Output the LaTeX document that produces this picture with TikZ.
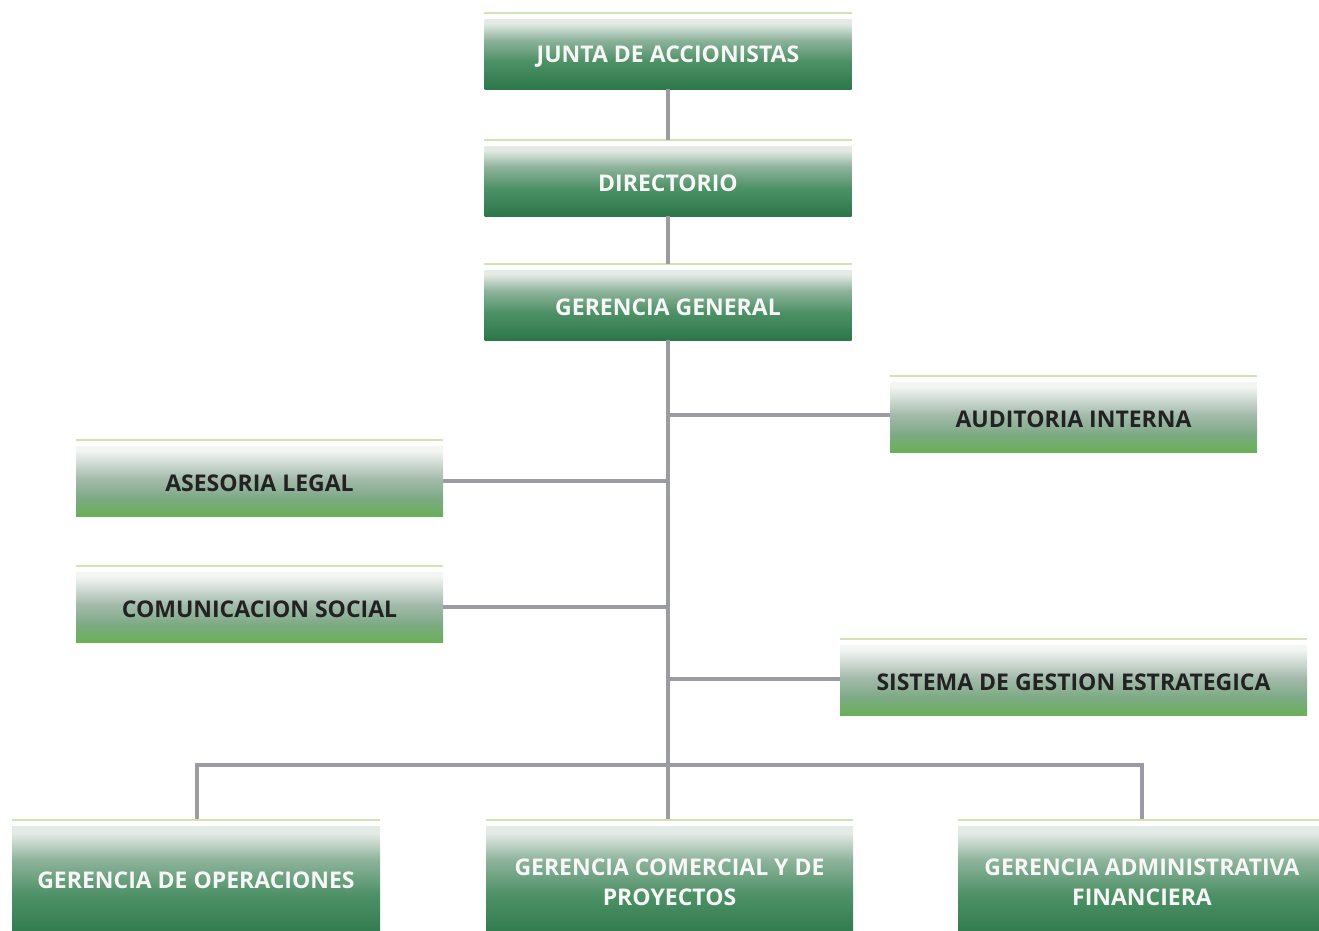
\documentclass[tikz,border=0pt]{standalone}
\usepackage{fontspec}
\setmainfont{Open Sans}
\definecolor{dkT}{HTML}{E4EAE6}
\definecolor{dkM1}{HTML}{8DB39B}
\definecolor{dkM2}{HTML}{4E9167}
\definecolor{dkB}{HTML}{2B774A}
\definecolor{ltT}{HTML}{F4F6F4}
\definecolor{ltM1}{HTML}{A5BBAD}
\definecolor{ltM2}{HTML}{7EAA86}
\definecolor{ltB}{HTML}{69B056}
\definecolor{linegray}{HTML}{9A9BA3}
\definecolor{topgreen}{HTML}{CFE4B0}
\definecolor{darktext}{HTML}{222222}
\pgfdeclareverticalshading{darkbox}{100bp}{color(0bp)=(dkB); color(25bp)=(dkB); color(45bp)=(dkM2); color(60bp)=(dkM1); color(72bp)=(dkT); color(100bp)=(dkT)}
\pgfdeclareverticalshading{lightbox}{100bp}{color(0bp)=(ltB); color(25bp)=(ltB); color(38bp)=(ltM2); color(52bp)=(ltM1); color(72bp)=(ltT); color(100bp)=(ltT)}
\begin{document}
\begin{tikzpicture}[x=1pt,y=-1pt,
  textbase/.style={rectangle, inner sep=0pt, align=center,
    font=\fontsize{23}{30}\selectfont\bfseries},
  box/.style={textbase, minimum height=70pt, text height=21pt},
  dbox/.style={box, shading=darkbox, text=white!94!gray},
  lbox/.style={box, shading=lightbox, text=darktext},
  conn/.style={draw=linegray, line width=4pt},
  topline/.style={draw=topgreen, line width=2.2pt}]
\useasboundingbox (0,0) rectangle (1319,930);
\node[dbox, minimum width=367pt] (junta) at (668,54) {JUNTA DE ACCIONISTAS};
\node[dbox, minimum width=367pt] (dir) at (668,181) {DIRECTORIO};
\node[dbox, minimum width=367pt] (gg) at (668,305) {GERENCIA GENERAL};
\node[lbox, minimum width=367pt] (aud) at (1073.5,417) {AUDITORIA INTERNA};
\node[lbox, minimum width=367pt] (ase) at (259.5,481) {ASESORIA LEGAL};
\node[lbox, minimum width=367pt] (com) at (259.5,607) {COMUNICACION SOCIAL};
\node[lbox, minimum width=467pt] (sis) at (1073.5,680) {SISTEMA DE GESTION ESTRATEGICA};
\node[dbox, minimum width=368pt, minimum height=114pt] (ops) at (196,883) {};
\node[dbox, minimum width=367pt, minimum height=114pt] (comr) at (669.5,883) {};
\node[dbox, minimum width=372pt, minimum height=114pt] (adm) at (1144,883) {};
\node[textbase, text=white!94!gray] (opsT) at (196,880) {GERENCIA DE OPERACIONES};
\node[textbase, text=white!94!gray] (comrT) at (669.5,882) {GERENCIA COMERCIAL Y DE\\PROYECTOS};
\node[textbase, text=white!94!gray] (admT) at (1142,882) {GERENCIA ADMINISTRATIVA\\FINANCIERA};
\foreach \n in {junta,dir,gg,aud,ase,com,sis,ops,comr,adm}
  \draw[topline] ([yshift=6pt]\n.north west) -- ([yshift=6pt]\n.north east);
\coordinate (bar) at (668,765);
\coordinate (hubA) at (668,415);
\coordinate (hubS) at (668,679);
\draw[conn] (junta.south) -- ([yshift=6pt]dir.north);
\draw[conn] (dir.south) -- ([yshift=6pt]gg.north);
\draw[conn] (gg.south) -- (bar);
\draw[conn] (hubA) -- (aud.west |- hubA);
\draw[conn] (ase.east) -- (ase.east -| bar);
\draw[conn] (com.east) -- (com.east -| bar);
\draw[conn] (hubS) -- (sis.west |- hubS);
\draw[conn] ([xshift=1pt,yshift=7pt]ops.north) |- (bar) -| ([xshift=-2pt,yshift=7pt]adm.north);
\draw[conn] (bar) -- ([yshift=7pt]comr.north -| bar);
\end{tikzpicture}
\end{document}
